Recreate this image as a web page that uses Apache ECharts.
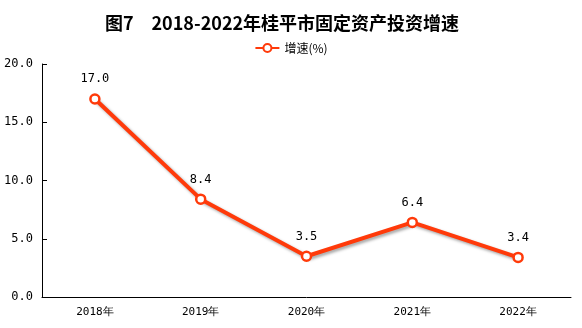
<!DOCTYPE html>
<html><head><meta charset="utf-8">
<script src="https://cdn.jsdelivr.net/npm/echarts@6/dist/echarts.min.js"></script>
<style>html,body{margin:0;padding:0;background:#fff}#c{width:582px;height:328px}</style>
</head><body><div id="c"></div>
<script>
const titleText = '图7　2018-2022年桂平市固定资产投资增速';
const categories = ['2018年','2019年','2020年','2021年','2022年'];
const seriesName = '增速(%)';
const growth = [17.0, 8.4, 3.5, 6.4, 3.4];
const yTicks = {min: 0, max: 20, interval: 5};

const chart = echarts.init(document.getElementById('c'));
chart.setOption({
  animation: false,
  title: {text: titleText, left: 277, textAlign: 'center', top: 9,
    textStyle: {fontSize: 18, fontWeight: 'bold', color: '#000', fontFamily: '"Noto Sans CJK SC", sans-serif'}},
  legend: {data: [seriesName], left: 'center', top: 37, itemWidth: 24, itemHeight: 10, itemGap: 6,
    textStyle: {fontSize: 12, color: '#000', fontFamily: '"Noto Sans CJK SC", sans-serif'}},
  grid: {left: 42, right: 11, top: 64, bottom: 31},
  xAxis: {type: 'category', data: categories, boundaryGap: true,
    axisLine: {lineStyle: {color: '#000', width: 1}},
    axisTick: {inside: true, length: 5, lineStyle: {color: '#000'}},
    axisLabel: {color: '#000', fontSize: 11, margin: 10, fontFamily: '"DejaVu Sans Mono", monospace'}},
  yAxis: {type: 'value', min: yTicks.min, max: yTicks.max, interval: yTicks.interval,
    splitLine: {show: false},
    axisLine: {show: true, lineStyle: {color: '#000', width: 1}},
    axisTick: {show: true, inside: true, length: 5, lineStyle: {color: '#000'}},
    axisLabel: {color: '#000', fontSize: 12, margin: 9, formatter: v => v.toFixed(1), fontFamily: '"DejaVu Sans Mono", monospace'}},
  series: [{
    name: seriesName, type: 'line', data: growth,
    symbol: 'circle', symbolSize: 9,
    itemStyle: {color: '#fff', borderColor: '#FF3A0A', borderWidth: 2.5},
    lineStyle: {color: '#FF3A0A', width: 4, shadowColor: 'rgba(0,0,0,0.35)', shadowBlur: 3, shadowOffsetX: 2, shadowOffsetY: 2},
    label: {show: true, position: 'top', distance: 8, color: '#000', fontSize: 12,
      formatter: p => p.value.toFixed(1), fontFamily: '"DejaVu Sans Mono", monospace'}
  }]
});
</script></body></html>
